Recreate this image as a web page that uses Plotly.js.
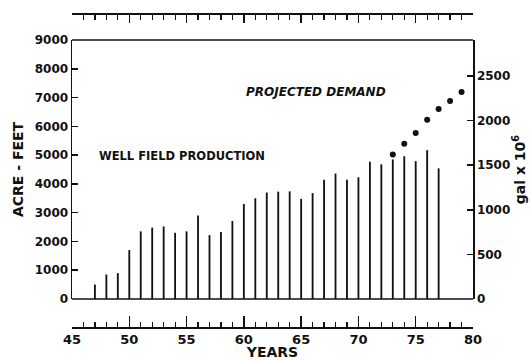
<!DOCTYPE html>
<html>
<head>
<meta charset="utf-8">
<script src="https://cdn.plot.ly/plotly-3.0.1.min.js"></script>
<style>html,body{margin:0;padding:0;background:#fff;}#chart{width:531px;height:360px;}</style>
</head>
<body>
<div id="chart"></div>
<script>
// Well field production (acre-feet) by year
const productionYears = [47,48,49,50,51,52,53,54,55,56,57,58,59,60,61,62,63,64,65,66,67,68,69,70,71,72,73,74,75,76,77];
const productionAcreFeet = [500,850,900,1700,2350,2480,2520,2300,2350,2900,2220,2330,2710,3300,3500,3700,3730,3740,3480,3680,4140,4360,4140,4230,4770,4680,4850,4960,4790,5170,4540];
// Projected demand (gal x 10^6) by year
const demandYears = [73,74,75,76,77,78,79];
const demandGal = [1620,1740,1860,2010,2130,2220,2320];
// Axis tick labels
const leftTicks = [0,1000,2000,3000,4000,5000,6000,7000,8000,9000];
const rightTicks = [0,500,1000,1500,2000,2500];
const yearTicks = [45,50,55,60,65,70,75,80];

const FONT = 'DejaVu Sans, Arial, sans-serif';
const INK = '#111';

const traces = [
  {
    type: 'bar', name: 'Well field production',
    x: productionYears, y: productionAcreFeet,
    xaxis: 'x', yaxis: 'y',
    width: 0.16, marker: {color: INK, line: {width: 0}},
    showlegend: false, hoverinfo: 'x+y'
  },
  {
    type: 'scatter', mode: 'markers', name: 'Projected demand',
    x: demandYears, y: demandGal,
    xaxis: 'x2', yaxis: 'y2',
    marker: {color: INK, size: 6},
    showlegend: false, hoverinfo: 'x+y'
  }
];

const tickFont = {family: FONT, size: 13, color: INK, weight: 'bold'};
const yDomain = [0.0892, 0.914];

const layout = {
  width: 531, height: 360,
  margin: {l: 72, r: 58, t: 13, b: 33, pad: 0},
  paper_bgcolor: '#fff', plot_bgcolor: '#fff',
  showlegend: false,
  xaxis: {
    range: [45, 80], anchor: 'free', position: 0,
    tickmode: 'array', tickvals: yearTicks, ticktext: yearTicks.map(String),
    ticks: 'inside', ticklen: 11, tickwidth: 1.5, tickcolor: INK,
    minor: {dtick: 1, tick0: 45, ticks: 'inside', ticklen: 5, tickwidth: 1.2, tickcolor: INK, showgrid: false},
    showline: true, linewidth: 1.5, linecolor: INK,
    showgrid: false, zeroline: false,
    tickfont: tickFont,
    title: {text: 'YEARS', font: {family: FONT, size: 14, color: INK, weight: 'bold'}, standoff: 0}
  },
  xaxis2: {
    range: [45, 80], overlaying: 'x', side: 'top', anchor: 'free', position: 1,
    tickmode: 'array', tickvals: yearTicks,
    ticks: 'inside', ticklen: 8, tickwidth: 1.5, tickcolor: INK,
    minor: {dtick: 1, tick0: 45, ticks: 'inside', ticklen: 5, tickwidth: 1.2, tickcolor: INK, showgrid: false},
    showticklabels: false,
    showline: true, linewidth: 1.5, linecolor: INK,
    showgrid: false, zeroline: false
  },
  yaxis: {
    range: [0, 9000], domain: yDomain, anchor: 'x',
    tickmode: 'array', tickvals: leftTicks, ticktext: leftTicks.map(String),
    ticks: 'inside', ticklen: 6, tickwidth: 1.5, tickcolor: INK,
    showline: true, linewidth: 1.5, linecolor: INK,
    showgrid: false, zeroline: false,
    tickfont: {family: FONT, size: 12, color: INK, weight: 'bold'},
    title: {text: 'ACRE - FEET', font: {family: FONT, size: 14, color: INK, weight: 'bold'}, standoff: 8}
  },
  yaxis2: {
    range: [0, 2903], domain: yDomain, overlaying: 'y', side: 'right', anchor: 'x',
    tickmode: 'array', tickvals: rightTicks, ticktext: rightTicks.map(String),
    ticks: 'inside', ticklen: 6, tickwidth: 1.5, tickcolor: INK,
    showline: true, linewidth: 1.5, linecolor: INK,
    showgrid: false, zeroline: false,
    tickfont: {family: FONT, size: 12, color: INK, weight: 'bold'},
    title: {text: 'gal x 10<sup>6</sup>', font: {family: FONT, size: 14, color: INK, weight: 'bold'}, standoff: 4}
  },
  shapes: [
    {type: 'line', xref: 'x domain', yref: 'y domain', x0: 0, x1: 1, y0: 1, y1: 1, line: {color: INK, width: 1.5}},
    {type: 'line', xref: 'x domain', yref: 'y domain', x0: 0, x1: 1, y0: 0, y1: 0, line: {color: INK, width: 1.5}}
  ],
  annotations: [
    {text: 'PROJECTED DEMAND', xref: 'x', yref: 'y', x: 66.3, y: 7190, showarrow: false,
     font: {family: FONT, size: 12, color: INK, weight: 'bold', style: 'italic'}},
    {text: 'WELL FIELD PRODUCTION', xref: 'x', yref: 'y', x: 47.2, y: 4970, xanchor: 'left', showarrow: false,
     font: {family: FONT, size: 11.5, color: INK, weight: 'bold'}}
  ]
};

Plotly.newPlot('chart', traces, layout, {displayModeBar: false, staticPlot: true});
</script>
</body>
</html>
